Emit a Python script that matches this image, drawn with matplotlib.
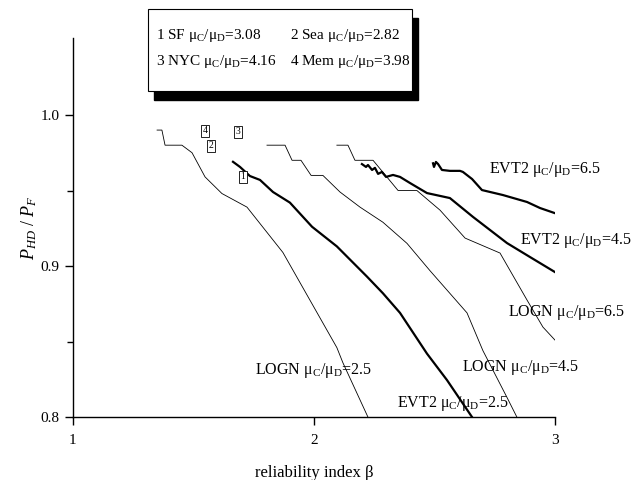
import matplotlib
matplotlib.use("Agg")
import matplotlib.pyplot as plt
from matplotlib.patches import Rectangle

plt.rcParams['font.family'] = ['Liberation Serif', 'DejaVu Serif']
plt.rcParams['mathtext.fontset'] = 'custom'
plt.rcParams['mathtext.rm'] = 'Liberation Serif'
plt.rcParams['mathtext.it'] = 'Liberation Serif:italic'

# ---- data ----
logn25_x = [1.349, 1.369, 1.382, 1.452, 1.494, 1.548, 1.618, 1.722, 1.871, 2.095, 2.120, 2.224]
logn25_y = [0.990, 0.990, 0.980, 0.980, 0.975, 0.959, 0.948, 0.939, 0.909, 0.846, 0.836, 0.800]

evt25_x = [1.664, 1.693, 1.734, 1.776, 1.830, 1.900, 1.992, 2.095, 2.220, 2.286, 2.357, 2.469, 2.552, 2.656]
evt25_y = [0.969, 0.9656, 0.9596, 0.957, 0.949, 0.942, 0.926, 0.913, 0.893, 0.882, 0.869, 0.842, 0.8245, 0.800]

logn45_x = [1.805, 1.880, 1.909, 1.946, 1.988, 2.037, 2.108, 2.191, 2.286, 2.386, 2.481, 2.635, 2.701, 2.801, 2.842]
logn45_y = [0.980, 0.980, 0.970, 0.970, 0.960, 0.960, 0.949, 0.939, 0.929, 0.915, 0.897, 0.869, 0.844, 0.813, 0.800]

logn65_x = [2.095, 2.141, 2.170, 2.245, 2.349, 2.427, 2.523, 2.627, 2.772, 2.884, 2.950, 3.0]
logn65_y = [0.980, 0.980, 0.970, 0.970, 0.950, 0.950, 0.937, 0.9185, 0.9086, 0.8775, 0.8596, 0.851]

evt45_x = [2.199, 2.216, 2.224, 2.241, 2.253, 2.266, 2.282, 2.299, 2.328, 2.357, 2.398, 2.469, 2.564, 2.660, 2.801, 2.896, 3.0]
evt45_y = [0.9675, 0.9656, 0.9669, 0.9636, 0.965, 0.961, 0.9623, 0.959, 0.9603, 0.959, 0.955, 0.9483, 0.945, 0.9325, 0.9152, 0.906, 0.896]

evt65_x = [2.494, 2.498, 2.506, 2.515, 2.531, 2.564, 2.606, 2.618, 2.656, 2.697, 2.784, 2.884, 2.938, 3.0]
evt65_y = [0.968, 0.9656, 0.9689, 0.9675, 0.9636, 0.963, 0.963, 0.9623, 0.9576, 0.9503, 0.947, 0.9424, 0.9384, 0.935]

curve_labels = ['EVT2 6.5', 'EVT2 4.5', 'LOGN 6.5', 'LOGN 4.5', 'LOGN 2.5', 'EVT2 2.5']
label_x = [2.725, 2.855, 2.805, 2.614, 1.755, 2.344]
label_y = [0.9636, 0.917, 0.8695, 0.833, 0.831, 0.809]

site_ids = ['1', '2', '3', '4']
site_x = [1.705, 1.573, 1.685, 1.548]
site_y = [0.959, 0.9795, 0.989, 0.9894]

legend_lines = ['1 SF', '2 Sea', '3 NYC', '4 Mem']
legend_ratios = ['3.08', '2.82', '4.16', '3.98']

mu = 'μ$_\\mathregular{C}$/μ$_\\mathregular{D}$'

fig = plt.figure(figsize=(6.43, 4.8), dpi=100)
ax = fig.add_axes([0.1135, 0.131, 0.7496, 0.79])

thin = 0.6
thick = 1.6
ax.plot(logn25_x, logn25_y, color='black', lw=thin)
ax.plot(logn45_x, logn45_y, color='black', lw=thin)
ax.plot(logn65_x, logn65_y, color='black', lw=thin)
ax.plot(evt25_x, evt25_y, color='black', lw=thick)
ax.plot(evt45_x, evt45_y, color='black', lw=thick)
ax.plot(evt65_x, evt65_y, color='black', lw=thick)

for lab, x, y in zip(curve_labels, label_x, label_y):
    name, val = lab.split()
    ax.text(x, y, f'{name} {mu}={val}', fontsize=11.5, ha='left', va='center',
            clip_on=False, zorder=5)

for sid, x, y in zip(site_ids, site_x, site_y):
    ax.text(x, y, sid, fontsize=7, ha='center', va='center', zorder=6,
            bbox=dict(boxstyle='square,pad=0.15', fc='white', ec='black', lw=0.6))

ax.set_xlim(1, 3)
ax.set_ylim(0.8, 1.051)
ax.set_xticks([1, 2, 3])
ax.set_xticklabels(['1', '2', '3'])
ax.set_yticks([0.8, 0.9, 1.0])
ax.set_yticklabels(['0.8', '0.9', '1.0'])
ax.set_yticks([0.85, 0.95], minor=True)
for s in ['top', 'right']:
    ax.spines[s].set_visible(False)
for s in ['left', 'bottom']:
    ax.spines[s].set_linewidth(1.0)
ax.tick_params(axis='both', which='major', direction='out', length=6, width=1.0, labelsize=11)
ax.tick_params(axis='x', which='major', pad=6)
ax.tick_params(axis='y', which='minor', direction='out', length=4, width=1.0)

ax.set_xlabel('reliability index β', fontsize=12, labelpad=13)
ax.set_ylabel('$P_{HD}$ / $P_F$', fontsize=13, labelpad=1)

# legend box with shadow (figure pixel coordinates converted)
W, H = 643.0, 480.0
bx0, by0, bx1, by1 = 148, 9, 412, 91
fig.patches.append(Rectangle(((bx0 + 6) / W, 1 - (by1 + 9) / H), (bx1 - bx0) / W, (by1 - by0) / H,
                             transform=fig.transFigure, fc='black', ec='black', zorder=1))
fig.patches.append(Rectangle((bx0 / W, 1 - by1 / H), (bx1 - bx0) / W, (by1 - by0) / H,
                             transform=fig.transFigure, fc='white', ec='black', lw=0.8, zorder=2))
col_x = [156, 290]
row_y = [35, 62]
for i, (nm, r) in enumerate(zip(legend_lines, legend_ratios)):
    cx = col_x[i % 2]
    cy = row_y[i // 2]
    fig.text(cx / W, 1 - cy / H, f'{nm} {mu}={r}', fontsize=11, ha='left', va='center', zorder=3)

fig.savefig('out.png', dpi=100)
